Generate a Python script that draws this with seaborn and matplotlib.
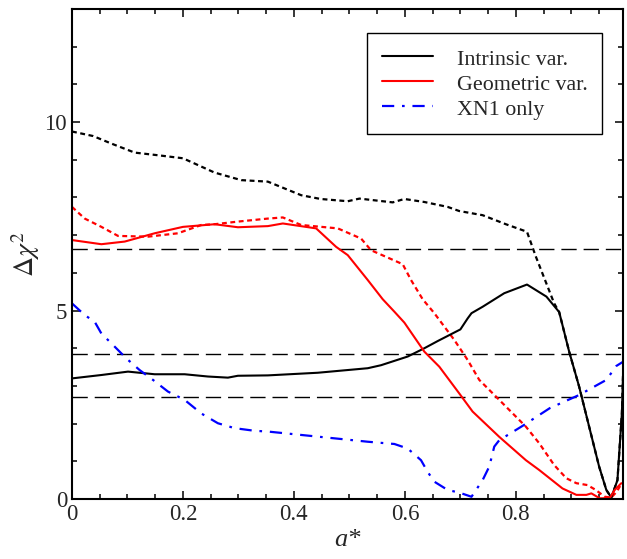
import numpy as np
import pandas as pd
import seaborn as sns
import matplotlib.pyplot as plt
from matplotlib.ticker import MultipleLocator
from matplotlib.lines import Line2D

# Intrinsic variability (solid black)
int_x = [0.0, 0.053, 0.101, 0.149, 0.203, 0.245, 0.281, 0.299, 0.353, 0.443, 0.533,
         0.557, 0.605, 0.635, 0.659, 0.70, 0.713, 0.72, 0.74, 0.779, 0.82, 0.855,
         0.878, 0.896, 0.914, 0.932, 0.95, 0.963, 0.972, 0.983, 0.991, 0.995]
int_y = [3.20, 3.29, 3.38, 3.31, 3.31, 3.25, 3.22, 3.27, 3.28, 3.35, 3.47,
         3.55, 3.78, 4.0, 4.19, 4.50, 4.79, 4.93, 5.10, 5.46, 5.69, 5.37,
         4.96, 3.91, 2.98, 1.92, 0.86, 0.24, 0.04, 0.50, 2.27, 4.2]

# Intrinsic variability, second case (dotted black)
int2_x = [0.0, 0.038, 0.071, 0.113, 0.155, 0.2, 0.257, 0.305, 0.353, 0.413, 0.448,
          0.497, 0.518, 0.578, 0.599, 0.635, 0.677, 0.698, 0.740, 0.782, 0.820,
          0.836, 0.869, 0.878, 0.896, 0.914, 0.932, 0.95, 0.963, 0.972, 0.983,
          0.991, 0.995]
int2_y = [9.75, 9.63, 9.43, 9.19, 9.12, 9.04, 8.66, 8.46, 8.42, 8.06, 7.96,
          7.90, 7.97, 7.87, 7.96, 7.88, 7.75, 7.64, 7.53, 7.29, 7.09,
          6.43, 5.19, 4.96, 3.91, 2.98, 1.92, 0.86, 0.24, 0.04, 0.50,
          2.27, 4.2]

# Geometric variability (solid red)
geo_x = [0.0, 0.053, 0.095, 0.149, 0.2, 0.257, 0.299, 0.353, 0.38, 0.44, 0.476,
         0.497, 0.533, 0.56, 0.581, 0.599, 0.635, 0.662, 0.698, 0.722, 0.770,
         0.818, 0.842, 0.884, 0.909, 0.927, 0.936, 0.951, 0.969, 0.978, 0.99]
geo_y = [6.87, 6.76, 6.83, 7.05, 7.22, 7.29, 7.21, 7.24, 7.31, 7.18, 6.69,
         6.47, 5.81, 5.30, 4.97, 4.68, 3.91, 3.51, 2.80, 2.32, 1.65,
         1.03, 0.77, 0.28, 0.11, 0.11, 0.15, 0.02, 0.02, 0.24, 0.42]

# Geometric variability, second case (dotted red)
geo2_x = [0.0, 0.023, 0.053, 0.083, 0.137, 0.191, 0.233, 0.257, 0.299, 0.353, 0.38,
          0.413, 0.479, 0.521, 0.539, 0.596, 0.611, 0.632, 0.653, 0.689, 0.713,
          0.734, 0.77, 0.818, 0.842, 0.869, 0.891, 0.909, 0.929, 0.944, 0.96,
          0.972, 0.982, 0.99]
geo2_y = [7.75, 7.44, 7.22, 6.98, 6.96, 7.05, 7.27, 7.29, 7.36, 7.44, 7.47,
          7.27, 7.18, 6.91, 6.60, 6.23, 5.81, 5.30, 4.93, 4.22, 3.69,
          3.16, 2.63, 1.92, 1.48, 0.90, 0.55, 0.42, 0.37, 0.24, 0.06,
          0.04, 0.2, 0.4]

# XN1 only (blue dash-dot)
xn1_x = [0.0, 0.023, 0.041, 0.053, 0.071, 0.098, 0.122, 0.146, 0.173, 0.203, 0.233,
         0.263, 0.293, 0.329, 0.353, 0.413, 0.473, 0.533, 0.581, 0.605, 0.629,
         0.641, 0.653, 0.677, 0.698, 0.72, 0.74, 0.752, 0.761, 0.77, 0.812,
         0.861, 0.914, 0.963, 0.981, 0.993]
xn1_y = [5.19, 4.88, 4.70, 4.39, 4.13, 3.73, 3.42, 3.16, 2.85, 2.63, 2.27,
         2.01, 1.88, 1.81, 1.79, 1.70, 1.61, 1.52, 1.46, 1.34, 1.03,
         0.72, 0.46, 0.24, 0.17, 0.06, 0.50, 0.86, 1.39, 1.56, 1.94,
         2.41, 2.76, 3.16, 3.53, 3.64]

# confidence levels for one parameter
levels = [2.706, 3.841, 6.635]

x_ticks = [0, 0.2, 0.4, 0.6, 0.8]
x_ticklabels = ["0", "0.2", "0.4", "0.6", "0.8"]
y_ticks = [0, 5, 10]

sns.set_style("ticks")
plt.rcParams['font.family'] = ['Liberation Serif', 'DejaVu Serif']
plt.rcParams['mathtext.fontset'] = 'stix'

fig = plt.figure(figsize=(6.27, 5.59), dpi=100)
ax = fig.add_axes([0.1148, 0.1073, 0.8788, 0.8766])

for lev in levels:
    ax.axhline(lev, color="black", lw=1.0, dashes=(11, 5), zorder=1)

dotted = (0, (2.2, 1.6))
dashdot = (0, (5.5, 3.5, 1.2, 3.5))

sns.lineplot(x=int2_x, y=int2_y, ax=ax, color="black", lw=1.6,
             linestyle=dotted, estimator=None, sort=False)
sns.lineplot(x=geo2_x, y=geo2_y, ax=ax, color="red", lw=1.6,
             linestyle=dotted, estimator=None, sort=False)
sns.lineplot(x=int_x, y=int_y, ax=ax, color="black", lw=1.5,
             estimator=None, sort=False)
sns.lineplot(x=geo_x, y=geo_y, ax=ax, color="red", lw=1.5,
             estimator=None, sort=False)
sns.lineplot(x=xn1_x, y=xn1_y, ax=ax, color="blue", lw=1.6,
             linestyle=dashdot, estimator=None, sort=False)

ax.set_xlim(0, 0.993)
ax.set_ylim(0, 13)
ax.set_xticks(x_ticks)
ax.set_xticklabels(x_ticklabels)
ax.set_yticks(y_ticks)
ax.xaxis.set_minor_locator(MultipleLocator(0.05))
ax.yaxis.set_minor_locator(MultipleLocator(1))
ax.tick_params(which="both", direction="in", top=True, right=True,
               labelsize=16.5, width=1.1, color="black")
ax.tick_params(which="major", length=6)
ax.tick_params(which="minor", length=3.5)
for s in ax.spines.values():
    s.set_linewidth(1.5)
    s.set_color("black")

ax.set_xlabel("a*", fontsize=19, style="italic", labelpad=3)
ax.set_ylabel(r"$\Delta\chi^2$", fontsize=20, labelpad=2)

handles = [Line2D([], [], color="black", lw=1.5),
           Line2D([], [], color="red", lw=1.5),
           Line2D([], [], color="blue", lw=1.6, linestyle=dashdot)]
leg = ax.legend(handles, ["Intrinsic var.", "Geometric var.", "XN1 only"],
                loc="upper right", bbox_to_anchor=(0.962, 0.951), borderaxespad=0,
                fontsize=15.8, fancybox=False, framealpha=1, edgecolor="black",
                handlelength=2.33, handletextpad=1.1, labelspacing=0.12,
                handleheight=1.0, borderpad=0.65)
leg.get_frame().set_linewidth(1.0)

plt.savefig("out.png", dpi=100)
